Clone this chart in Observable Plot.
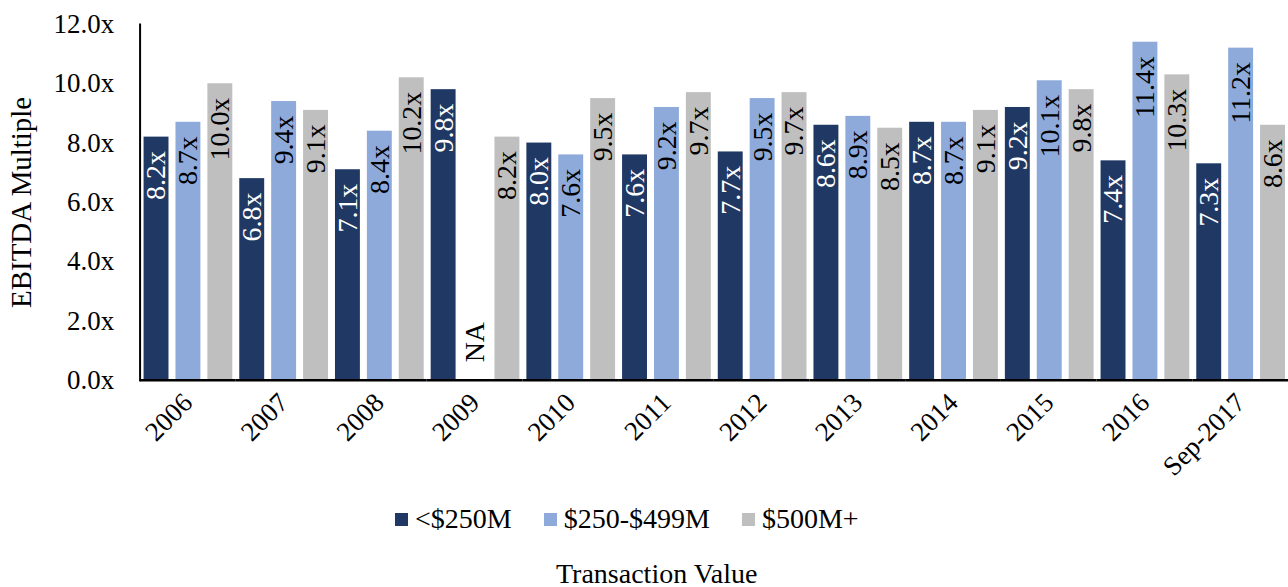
<!DOCTYPE html>
<html>
<head>
<meta charset="utf-8">
<script src="https://cdn.jsdelivr.net/npm/d3@7"></script>
<script src="https://cdn.jsdelivr.net/npm/@observablehq/plot@0.6"></script>
<style>
  html, body { margin: 0; padding: 0; background: #fff; overflow: hidden; width: 1288px; height: 587px; }
  body { font-family: "Liberation Serif", "Times New Roman", serif; color: #000; position: relative; }
  #chart { position: absolute; left: 0; top: 0; }
  #legend { position: absolute; left: 395px; top: 505px; display: flex; align-items: center; font-size: 28px; line-height: 28px; white-space: nowrap; }
  #legend .item { display: flex; align-items: center; margin-right: 32px; }
  #legend .sw { width: 13px; height: 13px; margin-right: 7px; display: inline-block; }
  #title { position: absolute; left: 556px; top: 560px; font-size: 28px; line-height: 28px; white-space: nowrap; }
</style>
</head>
<body>
<div id="chart"></div>
<div id="legend"></div>
<div id="title">Transaction Value</div>
<script>
const years = ["2006", "2007", "2008", "2009", "2010", "2011", "2012", "2013", "2014", "2015", "2016", "Sep-2017"];
const series = ["<$250M", "$250-$499M", "$500M+"];
const under250 = [8.2, 6.8, 7.1, 9.8, 8.0, 7.6, 7.7, 8.6, 8.7, 9.2, 7.4, 7.3];
const mid250to499 = [8.7, 9.4, 8.4, null, 7.6, 9.2, 9.5, 8.9, 8.7, 10.1, 11.4, 11.2];
const over500 = [10.0, 9.1, 10.2, 8.2, 9.5, 9.7, 9.7, 8.5, 9.1, 9.8, 10.3, 8.6];
const colors = ["#203864", "#8eaadb", "#bfbfbf"];
const yTicks = [0, 2, 4, 6, 8, 10, 12];

const seriesValues = [under250, mid250to499, over500];
const rows = [];
years.forEach((year, i) => {
  series.forEach((s, j) => {
    rows.push({year, series: s, value: seriesValues[j][i]});
  });
});
const present = rows.filter(d => d.value != null);
const missing = rows.filter(d => d.value == null);
const fmt = d => d.value.toFixed(1) + "x";
const serif = '"Liberation Serif", "Times New Roman", serif';

const chart = Plot.plot({
  width: 1292,
  height: 495,
  marginLeft: 139,
  marginRight: 0,
  marginTop: 24,
  marginBottom: 114,
  style: {fontFamily: serif, fontSize: "27px", color: "#000", background: "white", overflow: "visible"},
  fx: {domain: years, padding: 0, label: null},
  x: {domain: series, paddingInner: 0.22, paddingOuter: 0.1, axis: null},
  y: {domain: [0, 12], label: null},
  color: {domain: series, range: colors},
  marks: [
    Plot.barY(present, {fx: "year", x: "series", y: "value", fill: "series"}),
    Plot.text(present.filter(d => d.series === series[0]), {fx: "year", x: "series", y: "value", text: fmt, rotate: -90, textAnchor: "end", dy: 14, fill: "white", fontSize: 28, fontFamily: serif}),
    Plot.text(present.filter(d => d.series !== series[0]), {fx: "year", x: "series", y: "value", text: fmt, rotate: -90, textAnchor: "end", dy: 14, fill: "black", fontSize: 28, fontFamily: serif}),
    Plot.text(missing, {fx: "year", x: "series", y: () => 0, text: () => "NA", rotate: -90, textAnchor: "start", dy: -18, fill: "black", fontSize: 28, fontFamily: serif}),
    Plot.ruleY([0], {stroke: "black", strokeWidth: 2.5}),
    Plot.frame({anchor: "left", facetAnchor: "left", stroke: "black", strokeWidth: 2}),
    Plot.axisY({ticks: yTicks, tickFormat: d => d.toFixed(1) + "x", tickSize: 0, tickPadding: 26, fontSize: 27, fontFamily: serif, label: "EBITDA Multiple", labelAnchor: "center", labelArrow: "none", labelOffset: 130}),
    Plot.axisFx({anchor: "bottom", tickRotate: -45, tickSize: 0, tickPadding: 18, fontSize: 27, fontFamily: serif, label: null})
  ]
});
chart.querySelectorAll("[aria-label='y-axis label'] text, [aria-label='y-axis label']").forEach(el => el.setAttribute("font-size", "29"));
document.getElementById("chart").appendChild(chart);

const legend = document.getElementById("legend");
series.forEach((s, j) => {
  const item = document.createElement("span");
  item.className = "item";
  const sw = document.createElement("span");
  sw.className = "sw";
  sw.style.background = colors[j];
  const label = document.createElement("span");
  label.textContent = s;
  item.appendChild(sw);
  item.appendChild(label);
  legend.appendChild(item);
});
</script>
</body>
</html>
